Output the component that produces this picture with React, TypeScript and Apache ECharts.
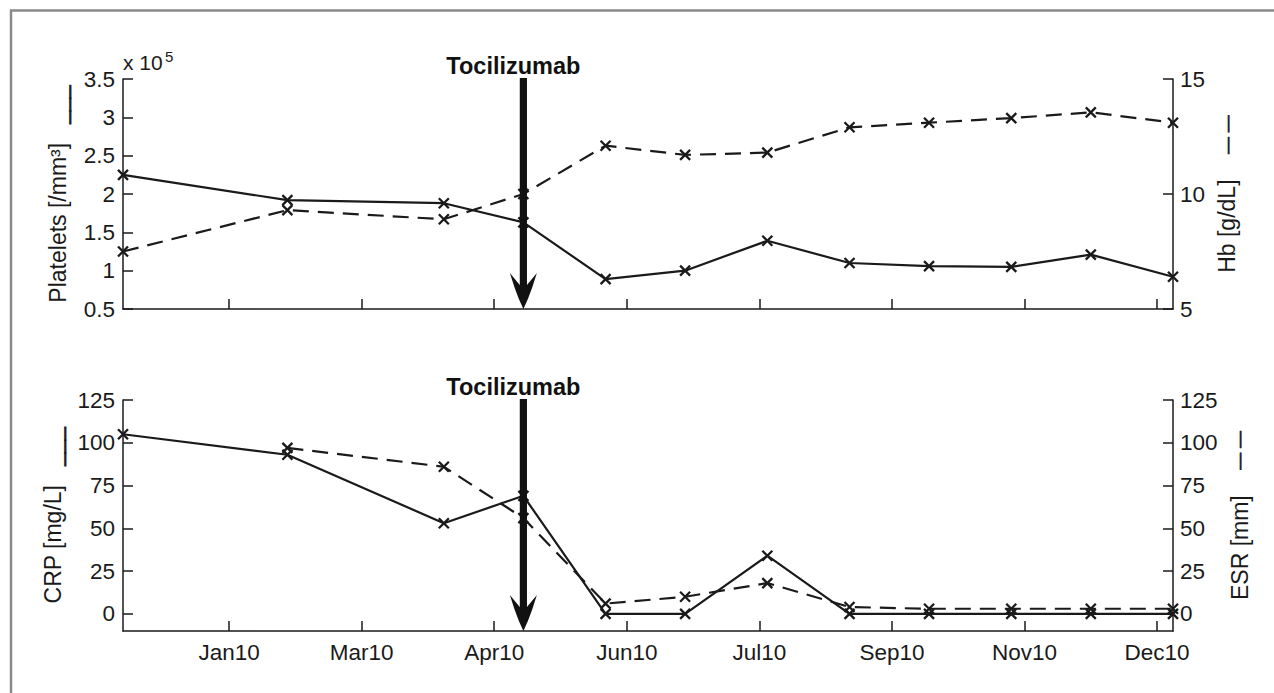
import React, { useEffect, useRef } from "react";
import * as echarts from "echarts";

// ---- data ----
const sampleDates = [
  "2009-12-03", "2010-02-03", "2010-04-03", "2010-05-03", "2010-06-03", "2010-07-03",
  "2010-08-03", "2010-09-03", "2010-10-03", "2010-11-03", "2010-12-03", "2011-01-03",
];
const plateletsE5 = [2.25, 1.92, 1.88, 1.63, 0.89, 1.0, 1.39, 1.1, 1.06, 1.05, 1.21, 0.92];
const hemoglobin = [7.5, 9.3, 8.9, 10.0, 12.1, 11.7, 11.8, 12.9, 13.1, 13.3, 13.55, 13.1];
const crp = [105, 93, 53, 69, 0, 0, 34, 0, 0, 0, 0, 0];
const esr = [null, 97, 86, 56, 6, 10, 18, 4, 3, 3, 3, 3];

const xTickDates = [
  "2010-01-12", "2010-03-03", "2010-04-22", "2010-06-11",
  "2010-07-31", "2010-09-19", "2010-11-08", "2010-12-28",
];
const xTickLabels = ["Jan10", "Mar10", "Apr10", "Jun10", "Jul10", "Sep10", "Nov10", "Dec10"];
const inflammTicks = [0, 25, 50, 75, 100, 125];
const treatmentDate = "2010-05-03";
const treatmentLabel = "Tocilizumab";

const FONT = '"Liberation Sans", Arial, Helvetica, sans-serif';
const INK = "#1a1a1a";
const CROSS = "path://M0,0L10,10M10,0L0,10";

const toDay = (s: string) => {
  const [y, m, d] = s.split("-").map(Number);
  return Date.UTC(y, m - 1, d) / 86400000;
};

const days = sampleDates.map(toDay);
const tickDays = xTickDates.map(toDay);
const pairs = (vals: (number | null)[]) =>
  vals.map((v, i) => [days[i], v]).filter((p) => p[1] !== null);

export default function App() {
  const ref = useRef<HTMLDivElement>(null);

  useEffect(() => {
    if (!ref.current) return;
    const chart = echarts.init(ref.current, null, { renderer: "svg" });

    const axisLine = { show: true, onZero: false, lineStyle: { color: INK, width: 1.5 } };
    const axisTick = (custom?: number[]) => ({
      show: true,
      inside: true,
      length: 10,
      lineStyle: { color: INK, width: 1.5 },
      ...(custom ? { customValues: custom } : {}),
    });
    const tickLabel = (margin: number, custom?: number[]) => ({
      show: true,
      color: INK,
      fontSize: 22.5,
      fontFamily: FONT,
      margin,
      ...(custom ? { customValues: custom } : {}),
    });
    const nameStyle = {
      color: INK,
      fontSize: 23,
      fontFamily: FONT,
      rich: {
        s: {
          fontSize: 23,
          fontFamily: FONT,
          color: INK,
          textBorderColor: INK,
          textBorderWidth: 0.7,
        },
        d: {
          fontSize: 17,
          fontFamily: FONT,
          color: INK,
          textBorderColor: INK,
          textBorderWidth: 0.7,
        },
      },
    };

    const xMin = days[0];
    const xMax = days[days.length - 1];

    const lineSeries = (
      data: any[],
      xi: number,
      yi: number,
      dashed: boolean,
      name: string
    ) => ({
      type: "line",
      name,
      xAxisIndex: xi,
      yAxisIndex: yi,
      data,
      symbol: CROSS,
      symbolSize: 10,
      showAllSymbol: true,
      lineStyle: { color: INK, width: 2.2, type: dashed ? [16, 9] : "solid" },
      itemStyle: { color: INK, borderColor: INK, borderWidth: 2.3 },
      z: 3,
    });

    const option: any = {
      animation: false,
      backgroundColor: "#ffffff",
      textStyle: { fontFamily: FONT },
      grid: [
        { left: 123, right: 101, top: 79, height: 230 },
        { left: 123, right: 101, top: 400, height: 231 },
      ],
      xAxis: [
        {
          type: "value",
          gridIndex: 0,
          min: xMin,
          max: xMax,
          axisLine,
          axisTick: axisTick(tickDays),
          axisLabel: { show: false },
          splitLine: { show: false },
        },
        {
          type: "value",
          gridIndex: 1,
          min: xMin,
          max: xMax,
          axisLine,
          axisTick: axisTick(tickDays),
          axisLabel: {
            ...tickLabel(10, tickDays),
            formatter: (v: number) => {
              const i = tickDays.indexOf(v);
              return i >= 0 ? xTickLabels[i] : "";
            },
          },
          splitLine: { show: false },
        },
      ],
      yAxis: [
        {
          type: "value",
          gridIndex: 0,
          position: "left",
          min: 0.5,
          max: 3.5,
          interval: 0.5,
          axisLine,
          axisTick: axisTick(),
          axisLabel: tickLabel(8),
          splitLine: { show: false },
          name: "Platelets [/mm³]   {s|___}",
          nameLocation: "middle",
          nameRotate: 90,
          nameGap: 53.5,
          nameTextStyle: nameStyle,
        },
        {
          type: "value",
          gridIndex: 0,
          position: "right",
          min: 5,
          max: 15,
          interval: 5,
          axisLine,
          axisTick: axisTick(),
          axisLabel: tickLabel(7),
          splitLine: { show: false },
          name: "Hb [g/dL]    {d|— —}",
          nameLocation: "middle",
          nameRotate: 90,
          nameGap: 37,
          nameTextStyle: nameStyle,
        },
        {
          type: "value",
          gridIndex: 1,
          position: "left",
          min: -10,
          max: 125,
          axisLine,
          axisTick: axisTick(inflammTicks),
          axisLabel: tickLabel(8, inflammTicks),
          splitLine: { show: false },
          name: "CRP [mg/L]   {s|___}",
          nameLocation: "middle",
          nameRotate: 90,
          nameGap: 59,
          nameTextStyle: nameStyle,
        },
        {
          type: "value",
          gridIndex: 1,
          position: "right",
          min: -10,
          max: 125,
          axisLine,
          axisTick: axisTick(inflammTicks),
          axisLabel: tickLabel(7, inflammTicks),
          splitLine: { show: false },
          name: "ESR [mm]    {d|— —}",
          nameLocation: "middle",
          nameRotate: 90,
          nameGap: 50.5,
          nameTextStyle: nameStyle,
        },
      ],
      series: [
        lineSeries(pairs(plateletsE5), 0, 0, false, "Platelets"),
        lineSeries(pairs(hemoglobin), 0, 1, true, "Hb"),
        lineSeries(pairs(crp), 1, 2, false, "CRP"),
        lineSeries(pairs(esr), 1, 3, true, "ESR"),
      ],
    };

    chart.setOption(option);

    // annotations computed from the chart's own scales
    const tDay = toDay(treatmentDate);
    const ax = chart.convertToPixel({ xAxisIndex: 0 }, tDay) as number;
    const top1 = chart.convertToPixel({ yAxisIndex: 0 }, 3.5) as number;
    const bot1 = chart.convertToPixel({ yAxisIndex: 0 }, 0.5) as number;
    const top2 = chart.convertToPixel({ yAxisIndex: 2 }, 125) as number;
    const bot2 = chart.convertToPixel({ yAxisIndex: 2 }, -10) as number;

    const arrow = (top: number, tip: number, id: string) => {
      const hw = 13.5;
      const hh = 36;
      const sw = 3.6;
      return [
        {
          type: "rect",
          id: id + "-shaft",
          z: 10,
          shape: { x: ax - sw, y: top - 1, width: sw * 2, height: tip - top - 10 },
          style: { fill: "#111" },
        },
        {
          type: "polygon",
          id: id + "-head",
          z: 10,
          shape: {
            points: [
              [ax, tip],
              [ax - 4.5, tip - 10],
              [ax - 9, tip - 22],
              [ax - hw, tip - hh],
              [ax - sw, tip - 24],
              [ax + sw, tip - 24],
              [ax + hw, tip - hh],
              [ax + 9, tip - 22],
              [ax + 4.5, tip - 10],
            ],
          },
          style: { fill: "#111" },
        },
        {
          type: "text",
          id: id + "-label",
          z: 10,
          x: ax - 10,
          y: top - 1.5,
          style: {
            text: treatmentLabel,
            font: `bold 23.5px ${FONT}`,
            fill: "#111",
            align: "center",
            textAlign: "center",
            verticalAlign: "bottom",
            textVerticalAlign: "bottom",
          },
        },
      ];
    };

    chart.setOption({
      graphic: [
        {
          type: "rect",
          id: "frame",
          z: 0,
          shape: { x: 11, y: 10.5, width: 1400, height: 1000 },
          style: { fill: "none", stroke: "#8a8a8a", lineWidth: 2.5 },
        },
        {
          type: "text",
          id: "mult",
          z: 10,
          x: 123,
          y: 62,
          style: {
            text: "x 10",
            font: `21px ${FONT}`,
            fill: INK,
            align: "left",
            textAlign: "left",
            verticalAlign: "middle",
            textVerticalAlign: "middle",
          },
        },
        {
          type: "text",
          id: "mult-exp",
          z: 10,
          x: 165,
          y: 56,
          style: {
            text: "5",
            font: `15px ${FONT}`,
            fill: INK,
            align: "left",
            textAlign: "left",
            verticalAlign: "middle",
            textVerticalAlign: "middle",
          },
        },
        ...arrow(top1, bot1, "a1"),
        ...arrow(top2, bot2, "a2"),
      ],
    });

    return () => chart.dispose();
  }, []);

  return (
    <div
      ref={ref}
      style={{ position: "absolute", left: 0, top: 0, width: 1274, height: 693, background: "#fff" }}
    />
  );
}
